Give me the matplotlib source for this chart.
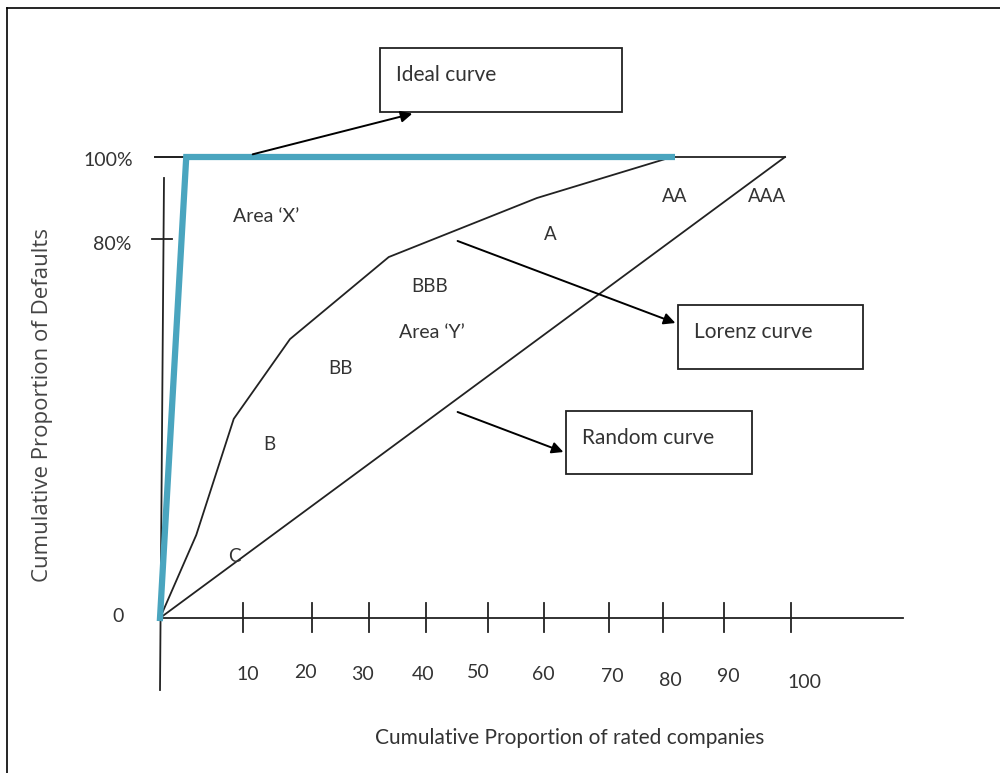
import numpy as np
import matplotlib.pyplot as plt
from matplotlib.patches import Rectangle
from matplotlib.lines import Line2D

# curve data (cumulative % of rated companies vs cumulative % of defaults)
lorenz_x = [0, 5.8, 11.8, 20.8, 36.6, 60.3, 81.9]
lorenz_y = [0, 18.0, 43.2, 60.5, 78.3, 91.1, 100]
ideal_x = [0, 4.2, 81.9]
ideal_y = [0, 100, 100]
random_x = [0, 100]
random_y = [0, 100]
top_x = [-0.8, 100]
top_y = [100, 100]

# hand-drawn ticks (as placed in the original sketch)
xtick_pos = [13.3, 24.3, 33.4, 42.6, 52.5, 61.4, 71.8, 80.5, 90.2, 101.0]
xtick_labels = ['10', '20', '30', '40', '50', '60', '70', '80', '90', '100']
ytick_labels = ['100%', '80%', '0']

grades = ['C', 'B', 'BB', 'BBB', 'A', 'AA', 'AAA']

FONT = 'Lato'
TXT = '#333333'

# pixel -> data helpers (figure is 1000x773 px)
def ux(px):
    return (px - 160) / 6.25

def uy(py):
    return (618 - py) / 4.61

fig = plt.figure(figsize=(10, 7.73), dpi=100)
ax = fig.add_axes([0, 0, 1, 1])
ax.set_xlim(ux(0), ux(1000))
ax.set_ylim(uy(773), uy(0))
ax.axis('off')

# outer frame (top and left edges)
fig.add_artist(Line2D([0.007, 1.0], [1 - 8 / 773, 1 - 8 / 773], color='black', lw=1.2))
fig.add_artist(Line2D([0.007, 0.007], [0, 1 - 8 / 773], color='black', lw=1.2))

# axes lines
ax.plot([ux(164), ux(160)], [uy(178), uy(690)], color='#222222', lw=1.3)
ax.plot([0, ux(903)], [0, 0], color='#222222', lw=1.3)
for xp in xtick_pos:
    ax.plot([xp, xp], [uy(603), uy(632)], color='#222222', lw=1.3)
ax.plot([ux(155), ux(182)], [100, 100], color='#222222', lw=1.3)
ax.plot([ux(152), ux(172)], [uy(239), uy(239)], color='#222222', lw=1.3)

# tick labels
xlab_px = [(248, 675), (305, 673), (362, 675), (423, 675), (478, 673),
           (543, 675), (612, 677), (670, 680), (728, 677), (804, 682)]
for lab, (px, py) in zip(xtick_labels, xlab_px):
    ax.text(ux(px), uy(py), lab, fontsize=14, family=FONT, color=TXT,
            ha='center', va='center')
for lab, (px, py) in zip(ytick_labels, [(133, 160), (131, 245), (124, 617)]):
    ax.text(ux(px), uy(py), lab, fontsize=14, family=FONT, color=TXT,
            ha='right', va='center')

# curves
ax.plot(top_x, top_y, color='#222222', lw=1.3)
ax.plot(random_x, random_y, color='#222222', lw=1.3)
ax.plot(lorenz_x, lorenz_y, color='#222222', lw=1.3)
ax.plot(ideal_x, ideal_y, color='#4aa5bf', lw=4.5, solid_joinstyle='miter')

# grade labels along curves
grade_px = [(234, 556), (269, 445), (340, 368), (430, 286), (550, 234), (675, 196), (767, 196)]
for g, (px, py) in zip(grades, grade_px):
    ax.text(ux(px), uy(py), g, fontsize=13.5, family=FONT, color=TXT,
            ha='center', va='center')
ax.text(ux(266), uy(216), 'Area \u2018X\u2019', fontsize=14, family=FONT, color=TXT,
        ha='center', va='center')
ax.text(ux(432), uy(332), 'Area \u2018Y\u2019', fontsize=14, family=FONT, color=TXT,
        ha='center', va='center')

# callout boxes with arrows
boxes = [
    ('Ideal curve', (380, 48, 622, 112), (250, 155), (415, 113)),
    ('Lorenz curve', (678, 305, 863, 369), (455, 240), (678, 324)),
    ('Random curve', (566, 411, 752, 474), (455, 411), (566, 453)),
]
for text, (x0, y0, x1, y1), start, end in boxes:
    ax.add_patch(Rectangle((ux(x0), uy(y1)), ux(x1) - ux(x0), uy(y0) - uy(y1),
                           fill=False, edgecolor='#222222', lw=1.3))
    ax.text(ux(x0 + 16), uy(y0 + 27), text, fontsize=15, family=FONT, color=TXT,
            ha='left', va='center')
    ax.annotate('', xy=(ux(end[0]), uy(end[1])), xytext=(ux(start[0]), uy(start[1])),
                arrowprops=dict(arrowstyle='-|>', color='black', lw=1.4, mutation_scale=17))

# axis titles
ax.text(ux(42), uy(405), 'Cumulative Proportion of Defaults', fontsize=16,
        family='Open Sans', color='#444444', rotation=90, ha='center', va='center')
ax.text(ux(570), uy(738), 'Cumulative Proportion of rated companies', fontsize=15,
        family=FONT, color=TXT, ha='center', va='center')

fig.savefig('out.png', dpi=100)
